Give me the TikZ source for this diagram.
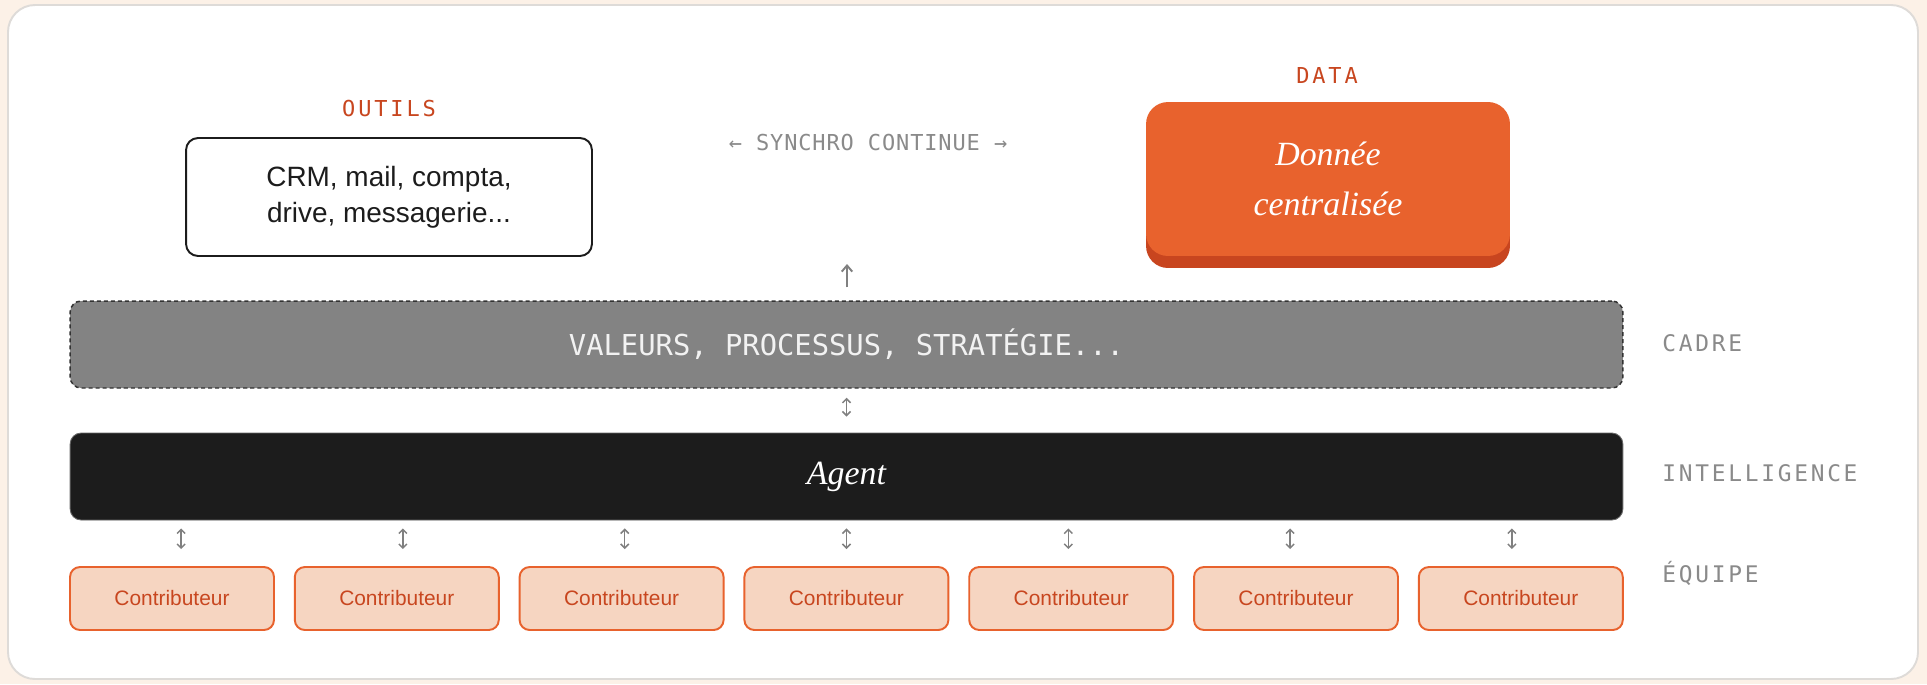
\documentclass[tikz,border=0pt]{standalone}
\usepackage{fontspec}
\setmainfont{Liberation Sans}
\newfontfamily\serifit{Liberation Serif}
\newfontfamily\monoplain{DejaVu Sans Mono}
\newfontfamily\monotag[LetterSpace=13]{DejaVu Sans Mono}
\newfontfamily\monoside[LetterSpace=12]{DejaVu Sans Mono}
\newfontfamily\monosync[LetterSpace=4]{DejaVu Sans Mono}
\usepackage{tikz}
\usetikzlibrary{arrows.meta,positioning}

\definecolor{cream}{HTML}{FCF1E7}
\definecolor{cardline}{HTML}{DEDBD8}
\definecolor{brandorange}{HTML}{E8622D}
\definecolor{brandshadow}{HTML}{C8451F}
\definecolor{tagred}{HTML}{C8461F}
\definecolor{peach}{HTML}{F6D5C1}
\definecolor{framegray}{HTML}{838383}
\definecolor{agentblack}{HTML}{1C1C1C}
\definecolor{labelgray}{HTML}{8A8A8A}
\definecolor{arrowgray}{HTML}{808080}

\begin{document}
\begin{tikzpicture}[x=0.02cm,y=-0.02cm,
  tag/.style={inner sep=0pt,font=\monotag\fontsize{12.5}{15}\selectfont,text=tagred},
  side/.style={inner sep=0pt,anchor=west,font=\monoside\fontsize{13}{16}\selectfont,text=labelgray},
  toolbox/.style={draw=agentblack,line width=1.1pt,fill=white,rounded corners=0.24cm,
    minimum width=8.12cm,minimum height=2.36cm,align=center,
    font=\fontsize{15.9}{20.4}\selectfont,text=agentblack},
  databox/.style={rounded corners=0.44cm,minimum width=7.28cm,minimum height=3.08cm,
    align=center,font=\serifit\itshape\fontsize{19.3}{28.3}\selectfont,text=white},
  layer/.style={rounded corners=0.22cm,minimum width=31.06cm,minimum height=1.74cm},
  contrib/.style={draw=brandorange,line width=1.1pt,fill=peach,rounded corners=0.2cm,
    minimum width=4.08cm,minimum height=1.26cm,text=tagred,font=\fontsize{11.9}{14}\selectfont},
  dblarr/.style={draw=arrowgray,line width=0.85pt,
    {Straight Barb[length=2.3pt,width=4.6pt]}-{Straight Barb[length=2.3pt,width=4.6pt]}},
  uparr/.style={draw=arrowgray,line width=1.1pt,-{Straight Barb[length=3.5pt,width=6pt]}}]
  % page and card
  \fill[cream] (0,0) rectangle (1927,684);
  \draw[cardline,fill=white,line width=1.1pt,rounded corners=0.54cm] (8,5) rectangle (1918,679);
  % top row: tools and data
  \node[tag] (outils) at (389,108) {OUTILS};
  \node[toolbox] (tools) at (389,197) {CRM, mail, compta,\\drive, messagerie...};
  \node[inner sep=0pt,font=\monosync\fontsize{12.5}{15}\selectfont,text=labelgray]
    (synchro) at (868,142) {← SYNCHRO CONTINUE →};
  \node[tag] (datatag) at (1327,75) {DATA};
  \node[databox,fill=brandshadow] (datashadow) at (1328,191) {};
  \node[databox,fill=brandorange] (data) at (1328,179) {Donnée\\centralisée};
  % layers
  \node[layer,fill=framegray,draw=black!80,line width=0.85pt,dash pattern=on 2.3pt off 1.7pt,
    text=white!95!black,font=\monoplain\fontsize{16.4}{20}\selectfont]
    (cadre) at (846.5,344.5) {VALEURS, PROCESSUS, STRATÉGIE...};
  \node[layer,fill=agentblack,draw=black!60,line width=0.5pt,text=white,
    font=\serifit\itshape\fontsize{19.3}{23}\selectfont] (agent) at (846.5,476.5) {Agent};
  \coordinate (upend) at (847,264);
  \draw[uparr,shorten <=0.26cm] (cadre.north -| upend) -- (upend);
  \draw[dblarr,shorten <=0.18cm,shorten >=0.32cm] (cadre.south) -- (agent.north);
  % side labels
  \node[side] (lcadre) at (1662,343) {CADRE};
  \node[side] (lintel) at (1662,473) {INTELLIGENCE};
  \node[side] (lequipe) at (1662,573) {ÉQUIPE};
  % team
  \foreach \i in {1,...,7} {
    \node[contrib] (c\i) at ({172+(\i-1)*224.8},598.5) {Contributeur};
    \coordinate (a\i) at ({846.5+(\i-4)*221.8},550);
    \draw[dblarr,shorten <=0.16cm,shorten >=0.34cm] (agent.south -| a\i) -- (c\i.north -| a\i);
  }
\end{tikzpicture}
\end{document}
